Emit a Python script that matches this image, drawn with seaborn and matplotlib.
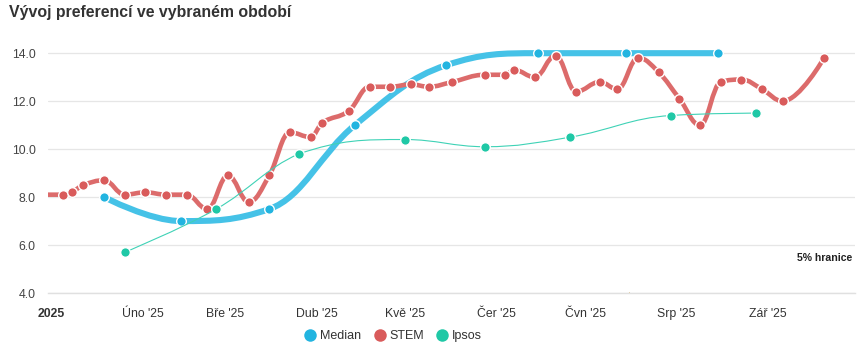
import numpy as np
import pandas as pd
import matplotlib
matplotlib.use("Agg")
import matplotlib.pyplot as plt
import matplotlib.dates as mdates
from matplotlib.path import Path
from matplotlib.patches import PathPatch
from matplotlib.lines import Line2D
import matplotlib.transforms as mtransforms
import seaborn as sns

# ---------------- data ----------------
median_dates = ["2025-01-19", "2025-02-14", "2025-03-16", "2025-04-14", "2025-05-15",
                "2025-06-15", "2025-07-15", "2025-08-15"]
median_values = [8.0, 7.0, 7.5, 11.0, 13.5, 14.0, 14.0, 14.0]

stem_dates = ["2024-12-29", "2025-01-05", "2025-01-08", "2025-01-12", "2025-01-19", "2025-01-26",
              "2025-02-02", "2025-02-09", "2025-02-16", "2025-02-23", "2025-03-02",
              "2025-03-09", "2025-03-16", "2025-03-23", "2025-03-30", "2025-04-03",
              "2025-04-12", "2025-04-19", "2025-04-26", "2025-05-03", "2025-05-09",
              "2025-05-17", "2025-05-28", "2025-06-04", "2025-06-07", "2025-06-14",
              "2025-06-21", "2025-06-28", "2025-07-06", "2025-07-12", "2025-07-19",
              "2025-07-26", "2025-08-02", "2025-08-09", "2025-08-16", "2025-08-23",
              "2025-08-30", "2025-09-06", "2025-09-20"]
stem_values = [8.1, 8.1, 8.2, 8.5, 8.7, 8.1,
               8.2, 8.1, 8.1, 7.5, 8.9,
               7.8, 8.9, 10.7, 10.5, 11.1,
               11.6, 12.6, 12.6, 12.7, 12.6,
               12.8, 13.1, 13.1, 13.3, 13.0,
               13.9, 12.4, 12.8, 12.5, 13.8,
               13.2, 12.1, 11.0, 12.8, 12.9,
               12.5, 12.0, 13.8]

ipsos_dates = ["2025-01-26", "2025-02-26", "2025-03-26", "2025-05-01", "2025-05-28",
               "2025-06-26", "2025-07-30", "2025-08-28"]
ipsos_values = [5.7, 7.5, 9.8, 10.4, 10.1, 10.5, 11.4, 11.5]

other_dates = ["2025-07-16"]
other_values = [3.88]

tick_dates = ["2025-01-01", "2025-02-01", "2025-03-01", "2025-04-01", "2025-05-01",
              "2025-06-01", "2025-07-01", "2025-08-01", "2025-09-01"]
tick_labels = ["2025", "Úno '25", "Bře '25", "Dub '25", "Kvě '25",
               "Čer '25", "Čvn '25", "Srp '25", "Zář '25"]

title = "Vývoj preferencí ve vybraném období"
threshold_label = "5% hranice"

# ---------------- style ----------------
C_MED_LINE, C_MED = "#45c2e7", "#22b4e0"
C_STEM_LINE, C_STEM = "#dc6b6b", "#d95b5b"
C_IPS_LINE, C_IPS = "#3fd2b6", "#1fc8a6"

sns.set_theme(style="white")
plt.rcParams["font.family"] = ["Liberation Sans", "DejaVu Sans"]


def to_num(ds):
    return mdates.date2num(pd.to_datetime(ds))


def spline_path(x, y, smoothing=1.5):
    """Highcharts-like spline as cubic Bezier path."""
    n = len(x)
    denom = smoothing + 1
    verts = [(x[0], y[0])]
    codes = [Path.MOVETO]
    rc = [None] * n
    lc = [None] * n
    for i in range(1, n - 1):
        px, py = x[i], y[i]
        lx, ly = x[i - 1], y[i - 1]
        nx, ny = x[i + 1], y[i + 1]
        lcx = (smoothing * px + lx) / denom
        lcy = (smoothing * py + ly) / denom
        rcx = (smoothing * px + nx) / denom
        rcy = (smoothing * py + ny) / denom
        corr = 0.0
        if rcx != lcx:
            corr = ((rcy - lcy) * (rcx - px)) / (rcx - lcx) + py - rcy
        lcy += corr
        rcy += corr
        if lcy > ly and lcy > py:
            lcy = max(ly, py); rcy = 2 * py - lcy
        elif lcy < ly and lcy < py:
            lcy = min(ly, py); rcy = 2 * py - lcy
        if rcy > ny and rcy > py:
            rcy = max(ny, py); lcy = 2 * py - rcy
        elif rcy < ny and rcy < py:
            rcy = min(ny, py); lcy = 2 * py - rcy
        lc[i] = (lcx, lcy)
        rc[i] = (rcx, rcy)
    for i in range(1, n):
        c1 = rc[i - 1] if rc[i - 1] is not None else (x[i - 1], y[i - 1])
        c2 = lc[i] if lc[i] is not None else (x[i], y[i])
        verts += [c1, c2, (x[i], y[i])]
        codes += [Path.CURVE4] * 3
    return Path(verts, codes)


fig = plt.figure(figsize=(8.63, 3.5), dpi=100)
ax = fig.add_axes([48 / 863, 1 - 293 / 350, (855 - 48) / 863, (293 - 40) / 350])

series = [
    ("Median", median_dates, median_values, C_MED_LINE, C_MED, 4.4, 2),
    ("STEM", stem_dates, stem_values, C_STEM_LINE, C_STEM, 3.3, 3),
    ("Ipsos", ipsos_dates, ipsos_values, C_IPS_LINE, C_IPS, 0.8, 4),
]

for name, ds, vs, lc_, mc, lw, z in series:
    xs = to_num(ds)
    path = spline_path(list(xs), list(vs))
    ax.add_patch(PathPatch(path, fill=False, edgecolor=lc_, lw=lw, zorder=z,
                           capstyle="round", joinstyle="round"))
    df = pd.DataFrame({"x": xs, "y": vs})
    sns.scatterplot(data=df, x="x", y="y", ax=ax, color=mc, s=48, edgecolor="white",
                    linewidth=1.0, zorder=z + 0.5, legend=False)

dfo = pd.DataFrame({"x": to_num(other_dates), "y": other_values})
sns.scatterplot(data=dfo, x="x", y="y", ax=ax, color="#e3b341", s=30, marker="^",
                edgecolor="#c9a24a", linewidth=0.5, zorder=1, legend=False)

ax.set_xlim(to_num(["2024-12-31"])[0], to_num(["2025-09-30"])[0] + 0.5)
ax.set_ylim(4.0, 14.55)
ax.set_xlabel("")
ax.set_ylabel("")

yt = [4.0, 6.0, 8.0, 10.0, 12.0, 14.0]
ax.set_yticks(yt)
ax.set_yticklabels([f"{v:.1f}" for v in yt], fontsize=8.8, color="#444444")
ax.yaxis.grid(True, color="#e6e6e6", lw=0.9)
ax.set_axisbelow(True)
ax.tick_params(axis="y", length=0, pad=9)

ax.set_xticks(to_num(tick_dates))
ax.set_xticklabels(tick_labels, fontsize=8.8, color="#333333")
ax.get_xticklabels()[0].set_fontweight("bold")
ax.tick_params(axis="x", length=4, width=0.8, color="#ccd6eb", direction="out", pad=7)

for s in ["top", "right", "left"]:
    ax.spines[s].set_visible(False)
ax.spines["bottom"].set_color("#e0e0e0")
ax.spines["bottom"].set_linewidth(1.0)

trans = mtransforms.blended_transform_factory(ax.transAxes, ax.transData)
ax.text(0.997, 5.45, threshold_label, transform=trans, ha="right", va="center",
        fontsize=7.6, color="#222222", fontweight="bold")

fig.text(9 / 863, 1 - 13 / 350, title, fontsize=11.4, fontweight="bold",
         color="#333333", ha="left", va="center")

handles = [Line2D([], [], ls="none", marker="o", markersize=9, color=c, markeredgewidth=0)
           for c in (C_MED, C_STEM, C_IPS)]
fig.legend(handles, ["Median", "STEM", "Ipsos"], loc="center",
           bbox_to_anchor=(393 / 863, 1 - 336 / 350), ncol=3, frameon=False,
           fontsize=9, handletextpad=0.25, columnspacing=1.0, handlelength=1.0,
           labelcolor="#333333")

fig.savefig("out.png", dpi=100)
